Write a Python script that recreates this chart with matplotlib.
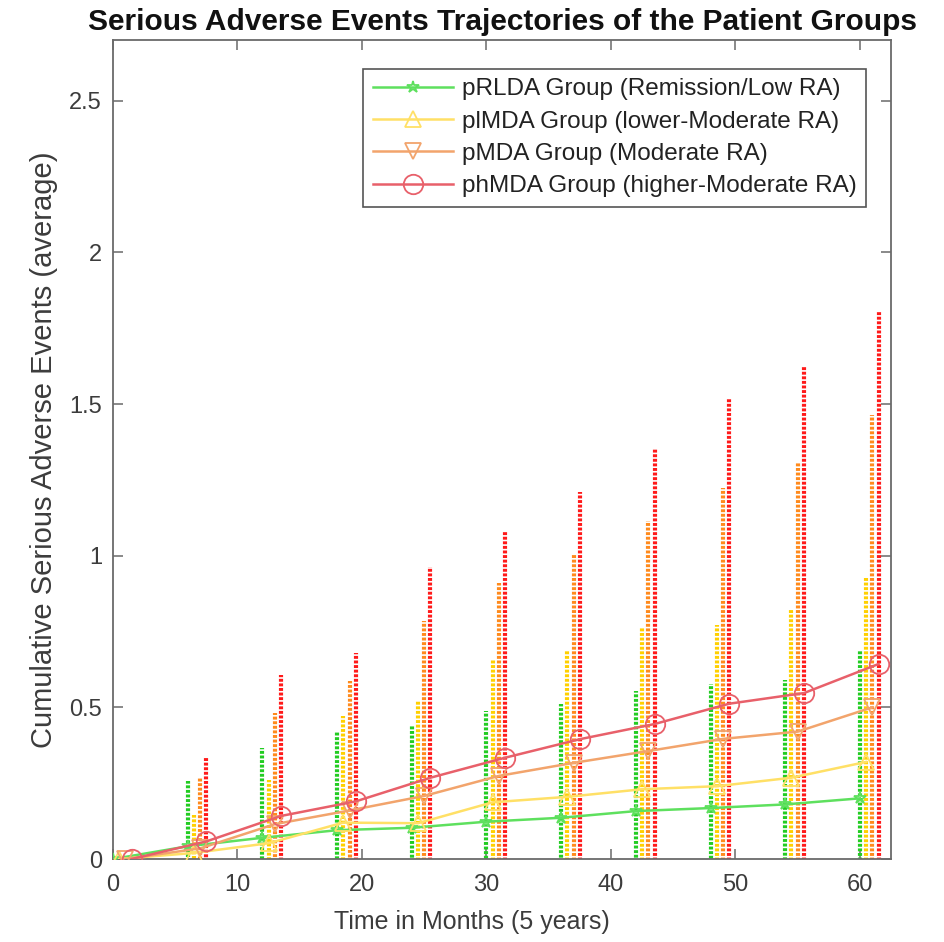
import matplotlib
matplotlib.use("Agg")
import matplotlib.pyplot as plt
import numpy as np

plt.rcParams['font.family'] = ['Liberation Sans', 'DejaVu Sans']

months = [0, 6, 12, 18, 24, 30, 36, 42, 48, 54, 60]
group_labels = ["pRLDA Group (Remission/Low RA)",
                "plMDA Group (lower-Moderate RA)",
                "pMDA Group (Moderate RA)",
                "phMDA Group (higher-Moderate RA)"]

green_mean = [0, 0.042, 0.070, 0.095, 0.103, 0.123, 0.136, 0.158, 0.168, 0.180, 0.200]
green_top = [0, 0.258, 0.366, 0.418, 0.442, 0.488, 0.510, 0.554, 0.576, 0.590, 0.686]
yellow_mean = [0, 0.020, 0.052, 0.120, 0.118, 0.187, 0.205, 0.230, 0.240, 0.268, 0.320]
yellow_top = [0, 0.145, 0.260, 0.470, 0.520, 0.660, 0.688, 0.760, 0.770, 0.820, 0.925]
orange_mean = [0, 0.035, 0.115, 0.160, 0.208, 0.274, 0.317, 0.356, 0.396, 0.420, 0.500]
orange_top = [0, 0.267, 0.480, 0.587, 0.785, 0.910, 1.006, 1.116, 1.224, 1.310, 1.465]
red_mean = [0, 0.058, 0.142, 0.190, 0.268, 0.334, 0.395, 0.445, 0.512, 0.547, 0.643]
red_top = [0, 0.336, 0.605, 0.680, 0.963, 1.080, 1.210, 1.353, 1.515, 1.623, 1.805]

series = [
    (green_mean, green_top, 0.0, '#5ee05e', '#22cc22', '*', 9),
    (yellow_mean, yellow_top, 0.5, '#ffe066', '#ffd000', '^', 11),
    (orange_mean, orange_top, 1.0, '#f2a46c', '#ff8a1c', 'v', 11),
    (red_mean, red_top, 1.5, '#e8606a', '#ff1a1a', 'o', 14),
]

fig = plt.figure(figsize=(9.44, 9.42), dpi=100)
ax = fig.add_axes([0.1197, 0.0881, 0.8242, 0.8694])

for (mean, top, off, lc, ec, mk, ms), lab in zip(series, group_labels):
    x = np.array(months, dtype=float) + off
    m = np.array(mean)
    err = np.array(top) - m
    eb = ax.errorbar(x, m, yerr=err, fmt='none', ecolor=ec, elinewidth=3.0,
                     capsize=0, zorder=2)
    for lc_ in eb[2]:
        lc_.set_linestyle((0, (0.7, 0.4)))
    ax.plot(x, m, color=lc, lw=1.8, marker=mk, markersize=ms,
            markerfacecolor='none', markeredgecolor=lc, markeredgewidth=1.3,
            label=lab, zorder=3)

ax.set_xlim(0, 62.5)
ax.set_ylim(0, 2.7)
ax.set_xticks([0, 10, 20, 30, 40, 50, 60])
ax.set_yticks([0, 0.5, 1, 1.5, 2, 2.5])
ax.set_yticklabels(['0', '0.5', '1', '1.5', '2', '2.5'])

axis_col = '#6a6a6a'
for sp in ax.spines.values():
    sp.set_color(axis_col)
    sp.set_linewidth(1.3)
ax.tick_params(direction='in', length=7, width=1.1, colors=axis_col,
               labelcolor='#3c3c3c', labelsize=17, top=True, right=True)
ax.tick_params(axis='x', pad=11)
ax.tick_params(axis='y', pad=8)

ax.set_xlabel('Time in Months (5 years)', fontsize=18, color='#3c3c3c')
ax.xaxis.set_label_coords(0.461, -0.062)
ax.set_ylabel('Cumulative Serious Adverse Events (average)', fontsize=21,
              color='#3c3c3c', labelpad=8)
ax.set_title('Serious Adverse Events Trajectories of the Patient Groups',
             fontsize=21.5, fontweight='bold', color='#111111', pad=7)

leg = ax.legend(loc='upper right', bbox_to_anchor=(0.968, 0.965), fontsize=17.5,
                frameon=True, fancybox=False, framealpha=1, edgecolor='#555555',
                handlelength=3.3, handletextpad=0.35, borderpad=0.4,
                labelspacing=0.42, borderaxespad=0)
leg.get_frame().set_linewidth(1.2)
for t in leg.get_texts():
    t.set_color('#222222')

fig.savefig('out.png', dpi=100)
